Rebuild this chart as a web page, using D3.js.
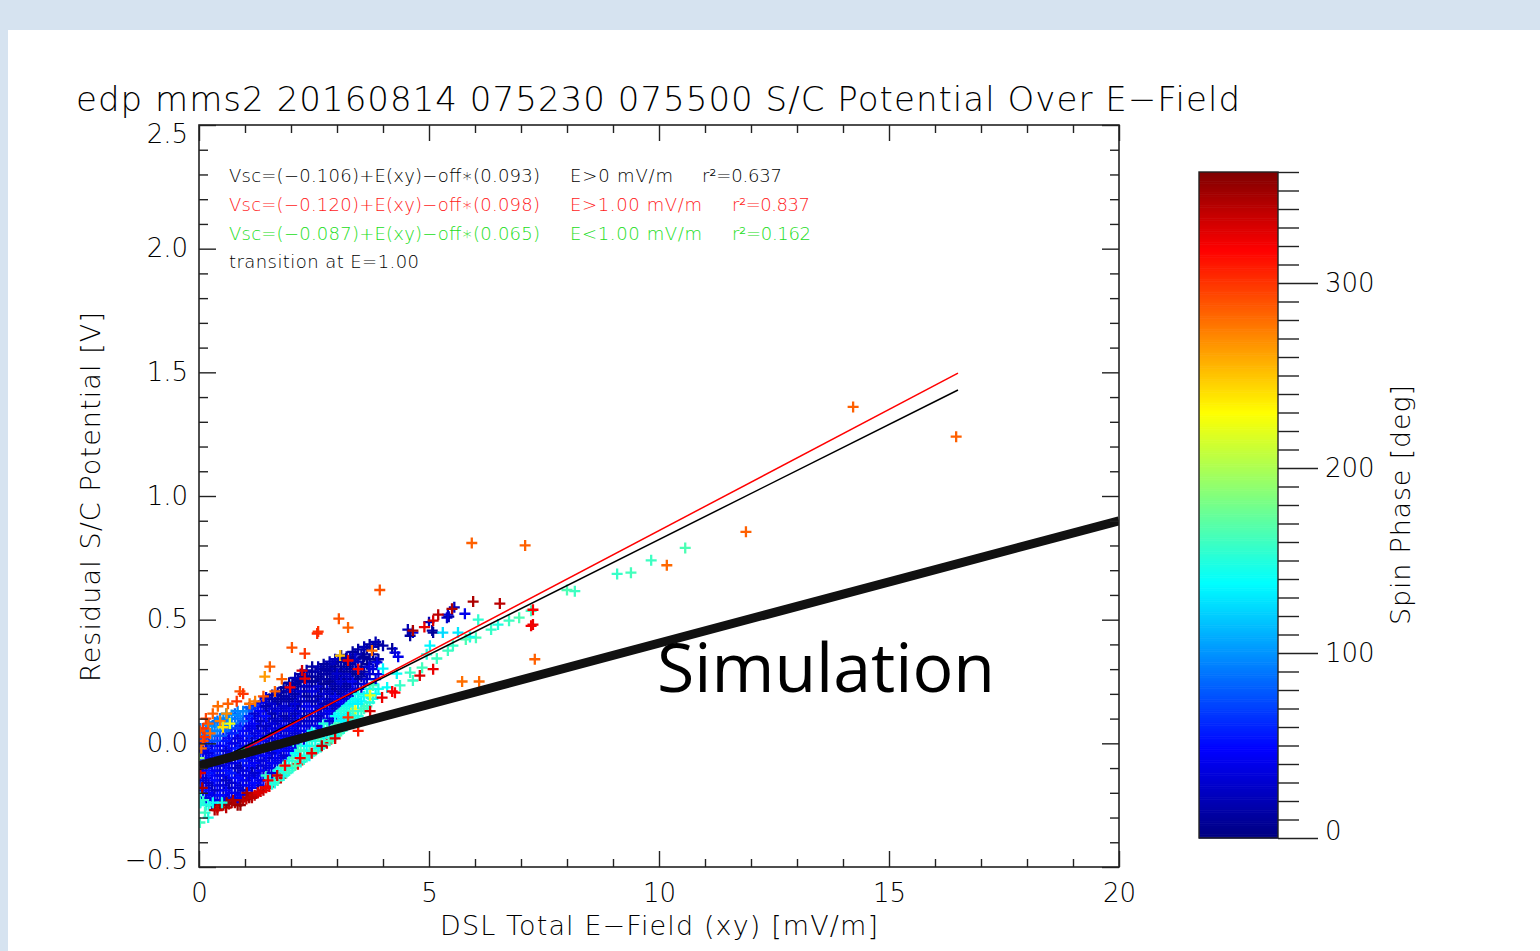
<!DOCTYPE html>
<html><head><meta charset="utf-8">
<script src="https://cdn.jsdelivr.net/npm/d3@7"></script>
<style>
html,body{margin:0;padding:0;background:#fff;}
svg{display:block;}
</style></head><body>
<svg id="c" width="1540" height="951"></svg>
<script>
// ---------- data ----------
const xDomain = [0, 20];
const yDomain = [-0.5, 2.5];
const xTickValues = [0, 5, 10, 15, 20];
const xTickLabels = ["0", "5", "10", "15", "20"];
const yTickValues = [-0.5, 0, 0.5, 1.0, 1.5, 2.0, 2.5];
const yTickLabels = ["\u22120.5", "0.0", "0.5", "1.0", "1.5", "2.0", "2.5"];
const phaseDomain = [0, 360];
const cbTickValues = [0, 100, 200, 300];
const cbTickLabels = ["0", "100", "200", "300"];
const phaseStops = [0, 48, 138, 230, 318, 360];
const phaseColors = ["#00007f", "#0000ff", "#00ffff", "#ffff00", "#ff0000", "#7f0000"];

// dense cluster, rows of [E, V values, phase values]
const clusterRows = [
  [0.03, [-0.24,-0.20,-0.16,-0.12,-0.08,-0.04,0.00,0.03,0.06], [150,140,60,40,30,50,45,85,95]],
  [0.15, [-0.25,-0.22,-0.18,-0.14,-0.10,-0.06,-0.02,0.02,0.05], [145,35,45,30,55,40,35,80,90]],
  [0.28, [-0.25,-0.21,-0.17,-0.13,-0.09,-0.05,-0.01,0.03,0.07], [20,40,25,45,35,50,40,90,100]],
  [0.40, [-0.26,-0.23,-0.19,-0.15,-0.11,-0.07,-0.03,0.01,0.05,0.09], [340,30,45,35,25,50,40,60,95,85]],
  [0.53, [-0.25,-0.21,-0.17,-0.13,-0.09,-0.05,-0.01,0.03,0.07,0.10], [345,25,40,30,45,35,55,40,90,100]],
  [0.65, [-0.245,-0.22,-0.18,-0.14,-0.10,-0.06,-0.02,0.02,0.06,0.10], [350,40,20,45,35,30,50,45,85,95]],
  [0.78, [-0.24,-0.20,-0.16,-0.12,-0.08,-0.04,0.00,0.04,0.08,0.12], [340,30,45,25,40,55,35,45,90,80]],
  [0.90, [-0.235,-0.21,-0.17,-0.13,-0.09,-0.05,-0.01,0.03,0.07,0.11], [345,45,30,40,20,45,35,50,60,95]],
  [1.03, [-0.225,-0.19,-0.15,-0.11,-0.07,-0.03,0.01,0.05,0.09,0.13], [335,35,25,45,30,50,40,30,55,85]],
  [1.15, [-0.215,-0.18,-0.14,-0.10,-0.06,-0.02,0.02,0.06,0.10,0.14], [350,40,45,20,35,45,25,40,45,70]],
  [1.28, [-0.20,-0.17,-0.13,-0.09,-0.05,-0.01,0.03,0.07,0.11,0.15], [330,30,40,25,50,35,45,20,40,55]],
  [1.40, [-0.19,-0.15,-0.11,-0.07,-0.03,0.01,0.05,0.09,0.13,0.17], [340,45,25,35,40,30,20,45,25,35]],
  [1.53, [-0.175,-0.14,-0.10,-0.06,-0.02,0.02,0.06,0.10,0.14,0.18], [325,150,40,30,45,25,40,20,35,15]],
  [1.65, [-0.16,-0.12,-0.08,-0.04,0.00,0.04,0.08,0.12,0.16,0.195], [145,160,35,45,25,40,30,15,30,20]],
  [1.78, [-0.14,-0.10,-0.06,-0.02,0.02,0.06,0.10,0.14,0.18,0.21], [330,155,40,30,50,20,35,25,15,10]],
  [1.90, [-0.12,-0.09,-0.05,-0.01,0.03,0.07,0.11,0.15,0.19,0.225], [160,140,45,35,25,40,15,30,20,10]],
  [2.03, [-0.10,-0.06,-0.02,0.02,0.06,0.10,0.14,0.18,0.22,0.24], [150,165,40,25,45,20,35,15,25,10]],
  [2.15, [-0.085,-0.05,-0.01,0.03,0.07,0.11,0.15,0.19,0.23,0.255], [320,145,155,40,30,45,15,30,10,20]],
  [2.28, [-0.065,-0.03,0.01,0.05,0.09,0.13,0.17,0.21,0.25,0.27], [160,150,35,45,25,15,35,10,20,12]],
  [2.40, [-0.05,-0.01,0.03,0.07,0.11,0.15,0.19,0.23,0.27], [140,160,45,30,20,40,15,25,10]],
  [2.53, [-0.03,0.01,0.05,0.09,0.13,0.17,0.21,0.25,0.29], [165,145,150,35,25,15,30,10,20]],
  [2.65, [-0.015,0.02,0.06,0.10,0.14,0.18,0.22,0.26,0.30], [150,160,40,30,20,35,10,15,12]],
  [2.78, [0.00,0.04,0.08,0.12,0.16,0.20,0.24,0.28,0.31], [330,140,155,45,25,15,30,10,15]],
  [2.90, [0.02,0.06,0.10,0.14,0.18,0.22,0.26,0.30,0.32], [160,150,35,20,30,10,20,12,25]],
  [3.03, [0.04,0.08,0.12,0.16,0.20,0.24,0.28,0.33], [145,165,140,40,15,25,10,15]],
  [3.15, [0.06,0.10,0.14,0.18,0.22,0.26,0.30,0.34], [155,130,150,30,20,10,25,12]],
  [3.28, [0.08,0.12,0.16,0.20,0.24,0.28,0.32,0.35], [160,145,135,40,15,25,10,20]],
  [3.40, [0.10,0.14,0.18,0.22,0.26,0.30,0.34,0.36], [150,220,140,35,10,20,15,30]],
  [3.53, [0.13,0.17,0.22,0.27,0.31,0.36], [155,135,30,15,10,20]],
  [3.65, [0.15,0.20,0.26,0.32,0.38], [160,140,25,10,15]],
  [3.78, [0.18,0.24,0.30,0.36,0.39], [150,130,35,12,20]],
  [3.90, [0.22,0.28,0.34,0.40], [145,40,15,10]]
];
// second, staggered layer of the dense cluster
const clusterRows2 = [
  [0.09, [-0.23,-0.19,-0.15,-0.11,-0.07,-0.03,0.01,0.045], [155,50,35,45,60,40,70,90]],
  [0.21, [-0.25,-0.20,-0.16,-0.12,-0.08,-0.04,0.00,0.04,0.075], [150,45,30,55,40,35,65,85,100]],
  [0.34, [-0.27,-0.23,-0.19,-0.15,-0.11,-0.07,-0.03,0.01,0.05,0.085], [345,40,30,50,45,35,55,75,95,90]],
  [0.46, [-0.25,-0.21,-0.17,-0.13,-0.09,-0.05,-0.01,0.03,0.07,0.10], [350,50,35,40,30,60,45,80,100,95]],
  [0.59, [-0.26,-0.23,-0.19,-0.15,-0.11,-0.07,-0.03,0.01,0.05,0.09,0.12], [340,35,45,25,50,40,30,55,85,95,105]],
  [0.71, [-0.24,-0.20,-0.16,-0.12,-0.08,-0.04,0.00,0.04,0.08,0.115], [345,45,30,55,35,45,40,60,90,100]],
  [0.84, [-0.25,-0.22,-0.18,-0.14,-0.10,-0.06,-0.02,0.02,0.06,0.10,0.13], [350,40,35,50,25,45,55,35,70,90,95]],
  [0.96, [-0.23,-0.19,-0.15,-0.11,-0.07,-0.03,0.01,0.05,0.09,0.13], [340,30,45,35,55,40,45,50,80,95]],
  [1.09, [-0.22,-0.17,-0.13,-0.09,-0.05,-0.01,0.03,0.07,0.11,0.145], [345,45,35,50,40,30,55,40,60,80]],
  [1.21, [-0.21,-0.16,-0.12,-0.08,-0.04,0.00,0.04,0.08,0.12,0.155], [335,50,30,45,40,55,35,45,30,65]],
  [1.34, [-0.195,-0.15,-0.11,-0.07,-0.03,0.01,0.05,0.09,0.13,0.165], [330,40,45,35,30,50,40,25,45,40]],
  [1.46, [-0.18,-0.13,-0.09,-0.05,-0.01,0.03,0.07,0.11,0.15,0.185], [325,155,35,45,30,40,25,50,20,30]],
  [1.59, [-0.165,-0.12,-0.08,-0.04,0.00,0.04,0.08,0.12,0.16,0.195], [150,35,45,30,40,25,35,20,30,15]],
  [1.71, [-0.15,-0.11,-0.07,-0.03,0.01,0.05,0.09,0.13,0.17,0.205], [160,145,40,50,30,45,25,35,15,20]],
  [1.84, [-0.13,-0.09,-0.05,-0.01,0.03,0.07,0.11,0.15,0.19,0.225], [145,165,30,45,35,40,20,30,15,10]],
  [1.96, [-0.11,-0.07,-0.03,0.01,0.05,0.09,0.13,0.17,0.21,0.245], [155,150,45,35,40,25,35,15,20,12]],
  [2.09, [-0.09,-0.04,0.00,0.04,0.08,0.12,0.16,0.20,0.24,0.265], [165,140,40,30,45,20,35,15,10,20]],
  [2.21, [-0.075,-0.03,0.01,0.05,0.09,0.13,0.17,0.21,0.25,0.28], [150,160,145,40,25,35,20,30,10,15]],
  [2.34, [-0.055,-0.01,0.03,0.07,0.11,0.15,0.19,0.23,0.27,0.295], [155,140,50,35,25,40,15,25,10,20]],
  [2.46, [-0.04,0.01,0.05,0.09,0.13,0.17,0.21,0.25,0.29,0.31], [160,150,140,30,45,20,35,10,15,12]],
  [2.59, [-0.02,0.03,0.07,0.11,0.15,0.19,0.23,0.27,0.31], [145,165,40,25,35,15,30,10,20]],
  [2.71, [-0.005,0.04,0.08,0.12,0.16,0.20,0.24,0.28,0.32], [155,140,150,35,20,30,10,15,12]],
  [2.84, [0.01,0.05,0.09,0.13,0.17,0.21,0.25,0.29,0.33], [160,145,35,45,20,25,10,15,20]],
  [2.96, [0.03,0.07,0.11,0.15,0.19,0.23,0.27,0.31,0.34], [150,160,140,30,40,15,20,10,25]],
  [3.09, [0.05,0.09,0.13,0.17,0.21,0.25,0.29,0.33,0.355], [165,135,150,45,20,30,10,15,12]],
  [3.21, [0.07,0.11,0.15,0.19,0.23,0.27,0.31,0.35], [150,140,145,35,15,25,10,20]],
  [3.34, [0.09,0.13,0.17,0.21,0.25,0.29,0.33,0.37], [155,160,140,30,45,10,15,12]],
  [3.46, [0.11,0.16,0.20,0.24,0.28,0.33,0.38], [150,135,145,20,10,25,15]],
  [3.59, [0.14,0.19,0.24,0.29,0.35,0.39], [160,140,35,15,10,20]],
  [3.71, [0.165,0.22,0.28,0.34,0.40], [150,145,30,12,15]],
  [3.84, [0.20,0.26,0.33,0.41], [140,35,10,20]]
];
// [E, V, phase]
const edgePoints = [
  [1.5,-0.15,325],[1.28,-0.20,330],[1.04,-0.20,345],[0.74,-0.23,345],[0.6,-0.24,350],
  [1.87,-0.09,320],[2.2,-0.06,320],[2.67,-0.01,340],[2.96,0.02,330],[3.46,0.05,310],
  [3.24,0.105,300],[3.72,0.13,330],[4.26,0.205,320],[0.07,-0.18,345],[0.13,-0.28,160],
  [0.3,-0.24,140],[0.5,-0.24,145],[0.0,-0.06,190],[0.9,-0.25,350],[1.15,-0.22,340],
  [0.02,-0.32,160],[0.2,-0.3,150],[0.4,-0.27,335],[1.7,-0.13,330],[2.45,-0.04,325],
  [0.03,-0.12,330],[0.02,-0.24,150]
];
const orangePoints = [
  [3.04,0.504,290],[3.24,0.468,285],[2.59,0.452,300],[2.57,0.444,305],[2.02,0.387,290],
  [2.30,0.363,300],[3.76,0.375,280],[3.07,0.355,250],[1.54,0.31,285],[1.43,0.27,265],
  [1.65,0.21,285],[0.89,0.21,290],[0.96,0.20,300],[0.63,0.16,285],[0.41,0.15,280],
  [0.82,0.17,300],[1.1,0.16,280],[1.22,0.17,275],[0.2,0.08,285],[0.09,0.06,300],
  [0.24,0.04,280],[0.09,0.01,290],[0.46,0.09,275],[0.52,0.065,240],[0.67,0.08,225],
  [0.02,0.05,290],[0.3,0.12,285],[0.15,0.10,295],[0.6,0.12,270],[1.4,0.19,290],
  [1.8,0.26,285],[0.05,-0.02,280],[0.12,0.025,300]
];
const redPoints = [
  [5.96,0.573,345],[6.54,0.565,340],[5.5,0.544,345],[5.09,0.496,330],[4.65,0.456,345],
  [3.24,0.335,325],[3.46,0.30,320],[2.24,0.294,330],[2.3,0.262,325],[1.98,0.226,320],
  [5.2,0.52,340],[4.9,0.47,325]
];
const bluePoints = [
  [5.39,0.508,30],[5.43,0.512,15],[5.78,0.524,40],[5.07,0.456,15],[5.09,0.448,10],
  [4.65,0.448,35],[4.54,0.46,20],[4.59,0.435,12],[4.2,0.383,10],[4.26,0.367,35],
  [4.0,0.395,15],[4.33,0.35,40],[3.57,0.347,10],[3.87,0.327,40],[3.2,0.343,12],
  [3.7,0.31,35],[2.78,0.294,15],[3.0,0.282,30],[5.55,0.55,25],[5.0,0.49,20],[5.41,0.52,30]
];
const bandPoints = [
  [7.22,0.536,160],[6.96,0.508,165],[6.74,0.496,160],[6.35,0.46,158],[6.07,0.50,155],
  [6.02,0.427,162],[5.89,0.43,145],[5.63,0.448,130],[5.30,0.448,125],[5.02,0.395,135],
  [5.41,0.375,160],[5.52,0.395,158],[5.17,0.343,160],[4.85,0.306,162],[4.59,0.286,158],
  [4.30,0.282,140],[4.0,0.302,135],[4.65,0.254,160],[4.37,0.234,158],[4.09,0.226,140],
  [3.78,0.234,160],[3.72,0.194,220],[5.09,0.30,325],[4.8,0.274,330],[4.2,0.21,320],
  [3.98,0.185,325],[7.26,0.48,325],[6.5,0.48,150],[5.8,0.42,165],[4.95,0.36,150]
];
const outlierPoints = [
  [14.22,1.36,285],[16.46,1.24,285],[11.89,0.855,285],[10.17,0.72,282],[10.57,0.79,165],
  [9.83,0.74,160],[9.39,0.69,162],[9.09,0.685,158],[8.17,0.615,160],[8.0,0.62,165],
  [5.93,0.81,285],[7.09,0.80,285],[7.26,0.54,320],[7.22,0.475,322],[7.3,0.34,285],
  [5.72,0.25,280],[6.09,0.25,282],[3.93,0.62,290]
];
// fits: [intercept, slope, Emin, Emax]
const fitAll = [-0.106, 0.093, 0.0, 16.5];
const fitHigh = [-0.120, 0.098, 1.0, 16.5];
const fitLow = [-0.087, 0.065, 0.0, 1.0];
const simulationE = [0, 20];
const simulationV = [-0.09, 0.90];

const legendEq = ["Vsc=(\u22120.106)+E(xy)\u2212off\u2217(0.093)", "Vsc=(\u22120.120)+E(xy)\u2212off\u2217(0.098)", "Vsc=(\u22120.087)+E(xy)\u2212off\u2217(0.065)"];
const legendRange = ["E>0 mV/m", "E>1.00 mV/m", "E<1.00 mV/m"];
const legendR2 = ["r\u00b2=0.637", "r\u00b2=0.837", "r\u00b2=0.162"];
const legendColors = ["#000000", "#ff1a1a", "#22dd22"];
const transitionText = "transition at E=1.00";
const titleText = "edp mms2 20160814 075230 075500 S/C Potential Over E\u2212Field";
const xTitle = "DSL Total E\u2212Field (xy) [mV/m]";
const yTitle = "Residual S/C Potential [V]";
const cbTitle = "Spin Phase [deg]";

// ---------- drawing ----------
const W = 1540, H = 951;
const FONT = "'DejaVu Sans',sans-serif";
const FW = 200;
const INK = "#000000";
const svg = d3.select("#c");
svg.append("rect").attr("width", W).attr("height", H).attr("fill", "#d6e3f0");
svg.append("rect").attr("x", 8).attr("y", 30).attr("width", W - 8).attr("height", H - 30).attr("fill", "#ffffff");

const L = 199, R = 1119, T = 125, B = 867;
const x = d3.scaleLinear().domain(xDomain).range([L, R]);
const y = d3.scaleLinear().domain(yDomain).range([B, T]);
const col = d3.scaleLinear().domain(phaseStops).range(phaseColors).interpolate(d3.interpolateRgb);

svg.append("clipPath").attr("id", "pc").append("rect").attr("x", L).attr("y", T).attr("width", R - L).attr("height", B - T);

// points
const pts = [];
clusterRows.forEach(([e, vs, ps]) => vs.forEach((v, i) => pts.push([e, v, ps[i]])));
clusterRows2.forEach(([e, vs, ps]) => vs.forEach((v, i) => pts.push([e, v, ps[i]])));
const allPts = pts.concat(edgePoints, orangePoints, bluePoints, redPoints, bandPoints, outlierPoints);
const pg = svg.append("g").attr("clip-path", "url(#pc)");
pg.selectAll("path.pt").data(allPts).join("path")
  .attr("class", "pt")
  .attr("d", d => `M${x(d[0]) - 5.5},${y(d[1])}h11M${x(d[0])},${y(d[1]) - 5.5}v11`)
  .attr("stroke", d => col(d[2]))
  .attr("stroke-width", 2.3)
  .attr("fill", "none");

// fit lines
const line = d3.line().x(d => x(d[0])).y(d => y(d[1]));
function fitPts(f) { return [[f[2], f[0] + f[1] * f[2]], [f[3], f[0] + f[1] * f[3]]]; }
pg.append("path").attr("d", line(fitPts(fitLow))).attr("stroke", "#22dd22").attr("stroke-width", 1.5).attr("fill", "none");
pg.append("path").attr("d", line(fitPts(fitAll))).attr("stroke", "#000").attr("stroke-width", 1.5).attr("fill", "none");
pg.append("path").attr("d", line(fitPts(fitHigh))).attr("stroke", "#ff0000").attr("stroke-width", 1.5).attr("fill", "none");
// simulation line
pg.append("path").attr("d", line(simulationE.map((e, i) => [e, simulationV[i]])))
  .attr("stroke", "#111").attr("stroke-width", 9).attr("fill", "none");

// axes
const xMinor = d3.range(xDomain[0], xDomain[1] + 1, 1).filter(v => v % 5 !== 0);
const yMinor = d3.range(-5, 26).map(i => i / 10).filter(v => Math.abs(v * 2 - Math.round(v * 2)) > 1e-6);
function styleAxis(g) {
  g.select(".domain").remove();
  g.selectAll("line").attr("stroke", "#222").attr("stroke-width", 1.4);
  g.selectAll("text").attr("font-family", FONT).attr("font-weight", FW).attr("font-size", 26).attr("fill", INK);
}
const yLabelShift = [-7, 0, 0, 0, 0, 0, 9];
const cbLabelShift = [-7, 0, 0, 0];
svg.append("g").attr("transform", `translate(0,${B})`).call(d3.axisBottom(x).tickValues(xMinor).tickSize(-8).tickFormat("")).call(styleAxis);
svg.append("g").attr("transform", `translate(0,${B})`).call(d3.axisBottom(x).tickValues(xTickValues).tickSize(-16).tickPadding(17).tickFormat((d, i) => xTickLabels[i])).call(styleAxis);
svg.append("g").attr("transform", `translate(0,${T})`).call(d3.axisTop(x).tickValues(xMinor).tickSize(-8).tickFormat("")).call(styleAxis);
svg.append("g").attr("transform", `translate(0,${T})`).call(d3.axisTop(x).tickValues(xTickValues).tickSize(-16).tickFormat("")).call(styleAxis);
svg.append("g").attr("transform", `translate(${L},0)`).call(d3.axisLeft(y).tickValues(yMinor).tickSize(-9).tickFormat("")).call(styleAxis);
svg.append("g").attr("transform", `translate(${L},0)`).call(d3.axisLeft(y).tickValues(yTickValues).tickSize(-17).tickPadding(11).tickFormat((d, i) => yTickLabels[i])).call(styleAxis)
  .selectAll("text").attr("y", (d, i) => yLabelShift[i]);
svg.append("g").attr("transform", `translate(${R},0)`).call(d3.axisRight(y).tickValues(yMinor).tickSize(-9).tickFormat("")).call(styleAxis);
svg.append("g").attr("transform", `translate(${R},0)`).call(d3.axisRight(y).tickValues(yTickValues).tickSize(-17).tickFormat("")).call(styleAxis);
svg.append("rect").attr("x", L).attr("y", T).attr("width", R - L).attr("height", B - T)
  .attr("fill", "none").attr("stroke", "#222").attr("stroke-width", 1.6);

// titles
svg.append("text").attr("x", 76).attr("y", 111).attr("font-family", FONT).attr("font-weight", FW).attr("font-size", 34).attr("fill", INK)
  .attr("textLength", 1164).attr("lengthAdjust", "spacing").text(titleText);
svg.append("text").attr("x", 659).attr("y", 935).attr("text-anchor", "middle").attr("font-family", FONT).attr("font-weight", FW).attr("font-size", 27).attr("fill", INK)
  .attr("textLength", 438).attr("lengthAdjust", "spacing").text(xTitle);
svg.append("text").attr("transform", `translate(100,497) rotate(-90)`).attr("text-anchor", "middle").attr("font-family", FONT).attr("font-weight", FW).attr("font-size", 27).attr("fill", INK)
  .attr("textLength", 370).attr("lengthAdjust", "spacing").text(yTitle);

// legend
const legY = [182, 211, 240];
const rangeX = [570, 570, 570], rangeW = [103, 132, 132];
const r2X = [702, 732, 732], r2W = [80, 78, 79];
legendEq.forEach((t, i) => {
  const g = svg.append("g").attr("font-family", FONT).attr("font-weight", FW).attr("font-size", 18).attr("fill", legendColors[i]);
  g.append("text").attr("x", 229).attr("y", legY[i]).attr("textLength", 311).attr("lengthAdjust", "spacing").text(t);
  g.append("text").attr("x", rangeX[i]).attr("y", legY[i]).attr("textLength", rangeW[i]).attr("lengthAdjust", "spacing").text(legendRange[i]);
  g.append("text").attr("x", r2X[i]).attr("y", legY[i]).attr("textLength", r2W[i]).attr("lengthAdjust", "spacing").text(legendR2[i]);
});
svg.append("text").attr("x", 229).attr("y", 268).attr("font-family", FONT).attr("font-weight", FW).attr("font-size", 18).attr("fill", "#000")
  .attr("textLength", 190).attr("lengthAdjust", "spacing").text(transitionText);

// Simulation annotation
svg.append("text").attr("x", 657).attr("y", 692).attr("font-family", "'Open Sans',sans-serif").attr("font-size", 68).attr("fill", "#000")
  .text("Simulation");

// colorbar
const cbL = 1199, cbR = 1278, cbT = 172, cbB = 838;
const cy = d3.scaleLinear().domain(phaseDomain).range([cbB, cbT]);
const cbSteps = d3.range(phaseDomain[0], phaseDomain[1], 1);
svg.append("g").selectAll("rect").data(cbSteps).join("rect")
  .attr("x", cbL).attr("width", cbR - cbL)
  .attr("y", d => cy(d + 1)).attr("height", d => cy(d) - cy(d + 1) + 0.6)
  .attr("fill", d => col(d + 0.5));
svg.append("rect").attr("x", cbL).attr("y", cbT).attr("width", cbR - cbL).attr("height", cbB - cbT)
  .attr("fill", "none").attr("stroke", "#222").attr("stroke-width", 1.4);
const cbMinor = d3.range(0, 361, 10).filter(v => v % 100 !== 0);
svg.append("g").attr("transform", `translate(${cbR},0)`).call(d3.axisRight(cy).tickValues(cbMinor).tickSize(21).tickFormat("")).call(styleAxis);
svg.append("g").attr("transform", `translate(${cbR},0)`).call(d3.axisRight(cy).tickValues(cbTickValues).tickSize(40).tickPadding(7).tickFormat((d, i) => cbTickLabels[i])).call(styleAxis)
  .selectAll("text").attr("y", (d, i) => cbLabelShift[i]);
svg.append("text").attr("transform", `translate(1410,505) rotate(-90)`).attr("text-anchor", "middle").attr("font-family", FONT).attr("font-weight", FW).attr("font-size", 27).attr("fill", INK)
  .attr("textLength", 240).attr("lengthAdjust", "spacing").text(cbTitle);
</script></body></html>
